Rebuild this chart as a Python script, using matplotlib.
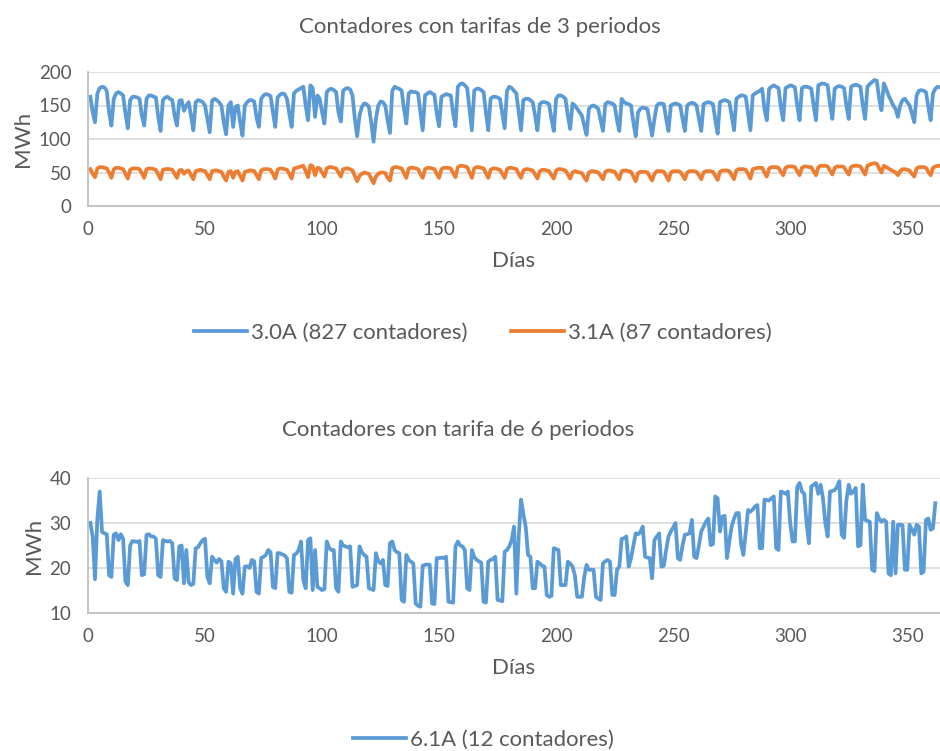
import numpy as np
import matplotlib.pyplot as plt

plt.rcParams['font.family'] = ['Lato', 'DejaVu Sans']

# 3.0A (827 contadores), MWh por día
consumo_30a = [
    163, 140, 125,
    168, 176, 178, 177, 172, 140, 120,
    160, 168, 170, 168, 165, 138, 116,
    158, 163, 163, 162, 160, 135, 120,
    160, 165, 165, 163, 162, 133, 112,
    158, 162, 163, 160, 158, 135, 120,
    157, 158, 142, 150, 155, 135, 113,
    155, 158, 157, 155, 150, 130, 110,
    157, 160, 158, 155, 150, 125, 107,
    150, 155, 118, 148, 150, 125, 105,
    150, 155, 158, 158, 156, 132, 118,
    160, 165, 167, 166, 164, 140, 118,
    162, 166, 168, 167, 160, 138, 118,
    168, 172, 174, 176, 178, 150, 128,
    180, 176, 133, 165, 160, 140, 123,
    170, 174, 175, 173, 170, 140, 126,
    172, 175, 176, 174, 165, 130, 104,
    135, 148, 153, 152, 148, 125, 96,
    130, 150, 156, 155, 150, 128, 109,
    172, 178, 176, 175, 172, 145, 123,
    168, 171, 170, 170, 168, 140, 113,
    165, 168, 170, 168, 166, 138, 119,
    163, 165, 167, 166, 165, 138, 119,
    178, 182, 183, 180, 176, 145, 113,
    172, 175, 175, 173, 170, 140, 113,
    160, 163, 163, 162, 160, 138, 116,
    172, 178, 176, 172, 168, 140, 113,
    158, 160, 160, 158, 155, 135, 113,
    152, 155, 155, 154, 152, 130, 112,
    160, 165, 165, 163, 160, 135, 115,
    153, 150, 145, 140, 135, 120, 106,
    145, 149, 150, 148, 145, 128, 112,
    152, 155, 154, 153, 150, 128, 112,
    160, 155, 153, 152, 150, 125, 104,
    140, 145, 147, 146, 145, 125, 105,
    130, 150, 153, 153, 152, 130, 112,
    150, 152, 153, 152, 150, 130, 112,
    150, 153, 154, 153, 150, 130, 112,
    152, 154, 155, 154, 152, 128, 108,
    155, 157, 158, 157, 155, 135, 113,
    160, 163, 165, 165, 163, 138, 113,
    165, 168, 170, 172, 175, 145, 128,
    175, 178, 180, 178, 176, 148, 128,
    176, 178, 180, 179, 177, 150, 128,
    176, 178, 178, 177, 175, 150, 128,
    180, 182, 183, 182, 180, 152, 130,
    175, 178, 179, 178, 176, 150, 130,
    178, 180, 181, 180, 178, 150, 130,
    178, 182, 185, 188, 187, 160, 143,
    183, 175, 165, 158, 150, 145, 133,
    150, 158, 160, 155, 150, 138, 125,
    165, 172, 173, 172, 170, 148, 128,
    168, 175, 178, 177,
]

# 3.1A (87 contadores)
consumo_31a = [
    55, 48, 43,
    56, 58, 58, 57, 56, 50, 42,
    55, 57, 57, 56, 55, 48, 41,
    54, 56, 56, 56, 55, 49, 42,
    55, 56, 56, 55, 54, 47, 40,
    54, 55, 55, 55, 54, 48, 42,
    53, 54, 48, 52, 53, 46, 40,
    52, 53, 54, 53, 52, 46, 40,
    52, 53, 53, 52, 51, 44, 38,
    51, 52, 42, 51, 52, 45, 38,
    51, 52, 53, 53, 52, 46, 40,
    53, 55, 55, 55, 54, 48, 41,
    54, 56, 56, 55, 54, 48, 41,
    56, 57, 58, 59, 60, 52, 43,
    61, 59, 46, 57, 56, 50, 44,
    56, 58, 58, 57, 56, 50, 44,
    55, 56, 56, 55, 53, 45, 37,
    45, 48, 50, 49, 48, 41, 34,
    44, 48, 50, 50, 49, 42, 38,
    56, 58, 58, 57, 56, 49, 42,
    56, 57, 57, 56, 55, 48, 42,
    55, 57, 57, 56, 55, 48, 42,
    55, 57, 57, 57, 56, 49, 43,
    58, 60, 60, 59, 58, 50, 42,
    56, 58, 58, 57, 56, 49, 42,
    54, 56, 56, 55, 54, 48, 42,
    55, 57, 57, 56, 55, 48, 42,
    53, 55, 55, 54, 53, 47, 41,
    52, 54, 54, 53, 52, 46, 41,
    53, 55, 55, 54, 53, 47, 41,
    50, 52, 51, 50, 49, 43, 38,
    50, 52, 52, 51, 50, 45, 40,
    51, 53, 53, 52, 51, 45, 40,
    52, 53, 53, 52, 51, 44, 37,
    49, 51, 51, 51, 50, 44, 38,
    48, 52, 52, 52, 51, 45, 38,
    50, 52, 52, 52, 51, 46, 40,
    50, 52, 52, 52, 51, 46, 40,
    50, 52, 52, 52, 51, 45, 39,
    51, 53, 53, 53, 52, 46, 40,
    53, 55, 55, 55, 54, 48, 41,
    55, 56, 57, 57, 57, 50, 44,
    56, 58, 58, 58, 57, 51, 46,
    57, 59, 59, 59, 58, 52, 46,
    57, 59, 59, 58, 58, 52, 46,
    58, 60, 60, 60, 59, 53, 47,
    57, 59, 59, 59, 58, 52, 47,
    58, 60, 60, 60, 59, 53, 47,
    60, 62, 63, 64, 63, 56, 50,
    60, 58, 56, 54, 52, 50, 46,
    52, 55, 55, 54, 53, 48, 44,
    56, 58, 58, 58, 57, 51, 46,
    57, 59, 60, 60,
]

# 6.1A (12 contadores)
consumo_61a = [
    30, 27, 17.5, 31, 37, 28, 27.7, 27.5, 18.4, 18,
    27.4, 27.7, 26.2, 27.5, 26.5, 17, 16.2,
    25, 26, 25.9, 25.8, 26, 18.4, 18.6,
    27.4, 27.5, 27, 27, 26.5, 18.4, 18,
    26.2, 26, 25.9, 26, 25.5, 17.7, 17.3,
    24.8, 25, 16.6, 24, 16.8, 16.2, 16.5,
    24.4, 24.6, 25.5, 26.2, 26.5, 18, 16.6,
    22.5, 21.8, 21.2, 22, 21.5, 15.5, 14.7,
    21.4, 21, 14.3, 22, 22.5, 15.5, 14.3,
    20.3, 20.4, 20, 21.8, 21.5, 14.7, 14.3,
    22.2, 22.5, 22.9, 24, 23.5, 15.8, 15.5,
    23.3, 23.3, 23, 22.8, 22.2, 14.7, 14.5,
    22.9, 23.2, 24, 25.9, 17.3, 15.5, 26.2,
    26.6, 15.1, 24.0, 15.8, 15.5, 15.1, 15.3,
    25.9, 24.5, 24.0, 24.0, 15.5, 14.7, 25.9,
    25.0, 24.8, 24.6, 24.8, 15.8, 16.0, 16.2,
    24.8, 23.5, 22.9, 22.5, 15.5, 15.3, 15.1,
    23.3, 21.5, 21.0, 21.8, 16.2, 16.0, 25.5,
    25.9, 24.0, 23.5, 23.3, 12.9, 12.5, 22.9,
    21.8, 21.4, 21.0, 12.1, 11.6, 11.4, 20.5,
    20.7, 20.8, 20.7, 12.1, 12.0, 22.2, 22.2,
    22.3, 22.2, 22.5, 12.5, 12.4, 12.3, 24.8,
    25.9, 25.0, 24.8, 24.0, 15.5, 15.1, 24.0,
    22.5, 21.8, 21.5, 21.2, 12.5, 12.3, 21.4,
    21.8, 22.0, 22.5, 12.9, 12.8, 12.6, 23.6,
    24.0, 24.8, 26.2, 29.2, 14.3, 27.0, 35.2,
    32.0, 29.2, 22.9, 22.5, 15.5, 15.5, 21.4,
    21.0, 20.5, 20.3, 14.0, 13.6, 13.8, 24.4,
    24.2, 24.0, 16.2, 16.2, 16.2, 21.4, 21.0,
    20.3, 18.4, 13.6, 13.6, 13.6, 18.0, 20.7,
    19.6, 19.6, 19.6, 13.6, 13.2, 12.9, 21.0,
    21.5, 21.8, 21.4, 14.0, 14.0, 19.6, 20.3,
    26.5, 26.6, 27.0, 20.3, 22.2, 25.0, 27.7,
    27.5, 28.0, 29.2, 22.5, 22.3, 22.2, 17.7,
    26.2, 27.0, 27.7, 20.3, 20.5, 24.0, 27.0,
    28.1, 29.0, 30.0, 22.2, 21.8, 25.0, 27.4,
    27.5, 27.7, 30.7, 22.5, 22.2, 25.0, 28.1,
    29.2, 30.3, 31.0, 25.1, 25.3, 35.9, 35.5,
    28.1, 31.4, 31.6, 22.2, 26.0, 29.2, 31.0,
    32.2, 32.2, 25.5, 22.9, 28.0, 32.9, 32.5,
    33.0, 33.7, 34.0, 24.4, 24.4, 35.2, 35.1,
    35.0, 35.5, 35.9, 24.4, 24.0, 37.0, 36.8,
    36.5, 37.0, 30.0, 25.9, 25.9, 38.0, 38.9,
    37.0, 36.5, 30.0, 25.5, 38.1, 38.5, 38.9,
    36.5, 38.5, 35.5, 30.0, 27.0, 37.0, 37.1,
    37.3, 38.0, 39.3, 27.4, 26.7, 35.0, 38.5,
    36.5, 37.0, 37.8, 24.8, 25.1, 38.5, 30.7,
    30.5, 30.3, 19.6, 19.3, 32.2, 31.0, 30.3,
    30.7, 30.3, 18.8, 18.4, 30.3, 18.8, 29.6,
    29.6, 29.5, 19.6, 19.6, 29.6, 28.5, 27.4,
    29.6, 29.2, 18.8, 19.2, 30.7, 31.0, 28.5,
    28.8, 34.4,
]

titulo_sup = 'Contadores con tarifas de 3 periodos'
titulo_inf = 'Contadores con tarifa de 6 periodos'
etiquetas = ['3.0A (827 contadores)', '3.1A (87 contadores)', '6.1A (12 contadores)']

azul = '#5b9bd5'
naranja = '#ed7d31'
gris = '#595959'

fig = plt.figure(figsize=(9.4, 7.51), dpi=100)
ax1 = fig.add_axes([88/940, 1 - 206/751, 852/940, 134/751])
ax2 = fig.add_axes([88/940, 1 - 613/751, 852/940, 135/751])

dias1 = np.arange(1, len(consumo_30a) + 1)
dias2 = np.arange(1, len(consumo_31a) + 1)
dias3 = np.arange(1, len(consumo_61a) + 1)

l1, = ax1.plot(dias1, consumo_30a, color=azul, lw=2.7, label=etiquetas[0])
l2, = ax1.plot(dias2, consumo_31a, color=naranja, lw=2.7, label=etiquetas[1])
l3, = ax2.plot(dias3, consumo_61a, color=azul, lw=2.7, label=etiquetas[2])

ax1.set_ylim(0, 200)
ax1.set_yticks(range(0, 201, 50))
ax2.set_ylim(10, 40)
ax2.set_yticks(range(10, 41, 10))

for ax in (ax1, ax2):
    ax.set_xlim(0, 364)
    ax.set_xticks(range(0, 351, 50))
    ax.grid(axis='y', color='#d9d9d9', lw=1.2)
    ax.set_axisbelow(True)
    for s in ('top', 'right'):
        ax.spines[s].set_visible(False)
    for s in ('left', 'bottom'):
        ax.spines[s].set_color('#bfbfbf')
        ax.spines[s].set_linewidth(1.3)
    ax.tick_params(axis='x', length=0, labelsize=13.5, colors=gris, pad=11)
    ax.tick_params(axis='y', length=0, labelsize=13.5, colors=gris, pad=12)
    ax.set_xlabel('Días', fontsize=16, color=gris, labelpad=9)
    ax.set_ylabel('MWh', fontsize=16, color=gris, labelpad=4)

fig.text(480/940, 1 - 27/751, titulo_sup, ha='center', va='center', fontsize=16, color=gris)
fig.text(458/940, 1 - 430/751, titulo_inf, ha='center', va='center', fontsize=16, color=gris)

fig.legend(handles=[l1, l2], loc='center', bbox_to_anchor=(483/940, 1 - 333/751),
           ncol=2, frameon=False, fontsize=15.9, labelcolor=gris,
           handlelength=2.4, handletextpad=0.18, columnspacing=2.0)
fig.legend(handles=[l3], loc='center', bbox_to_anchor=(483/940, 1 - 740/751),
           frameon=False, fontsize=15.9, labelcolor=gris,
           handlelength=2.4, handletextpad=0.18)

fig.savefig('out.png', dpi=100)
